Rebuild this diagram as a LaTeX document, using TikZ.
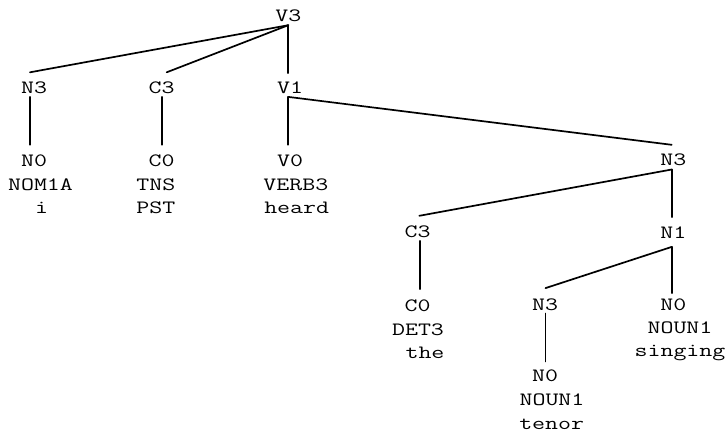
\documentclass[tikz,border=0pt]{standalone}
\usepackage{graphicx}
\newcommand{\cw}[1]{\scalebox{1.34}[1]{#1}}
\tikzset{
  txt/.style={anchor=base, inner sep=0pt, font=\fontsize{18.8}{22}\selectfont\ttfamily},
  cat/.style 2 args={txt, text height=#1pt, text depth=#2pt},
  edge/.style={line width=1.7pt, line cap=round},
}
\begin{document}
\begin{tikzpicture}[x=1pt,y=-1pt]
\useasboundingbox (0,0) rectangle (725,436);
% category nodes
\node[cat={20}{3.3}]   (V3)  at (288.3,21.7) {\cw{V3}};
\node[cat={20.8}{3.4}] (N3a) at (34,93.3)    {\cw{N3}};
\node[cat={20.8}{3.4}] (C3a) at (161.7,93.3) {\cw{C3}};
\node[cat={20}{3.4}]   (V1)  at (290,93.3)   {\cw{V1}};
\node[cat={21.7}{3.3}] (N0a) at (34,166.7)   {\cw{N0}};
\node[cat={21.7}{3.3}] (C0a) at (161.7,166.7){\cw{C0}};
\node[cat={21.7}{3.3}] (V0)  at (290,166.7)  {\cw{V0}};
\node[cat={20}{4.3}]   (N3b) at (673.3,165)  {\cw{N3}};
\node[cat={21.3}{3.4}] (C3b) at (417.7,237.3){\cw{C3}};
\node[cat={21}{8.4}]   (N1)  at (673.3,238.3){\cw{N1}};
\node[cat={22.4}{3.3}] (C0b) at (417.7,311.7){\cw{C0}};
\node[cat={21.7}{3.3}] (N3c) at (545,310)    {\cw{N3}};
\node[cat={16.7}{3.3}] (N0b) at (673.3,310)  {\cw{N0}};
\node[cat={20}{3.3}]   (N0c) at (545,381.7)  {\cw{N0}};
% word lines
\node[txt] (nom)   at (40.5,190)   {\cw{NOM1A}};
\node[txt] (i)     at (41.7,213.3) {\cw{i}};
\node[txt] (tns)   at (155.8,190)  {\cw{TNS}};
\node[txt] (pst)   at (155.8,213.3){\cw{PST}};
\node[txt] (verb)  at (295.8,190)  {\cw{VERB3}};
\node[txt] (heard) at (296.7,213.3){\cw{heard}};
\node[txt] (det)   at (418,335)    {\cw{DET3}};
\node[txt] (the)   at (425,358.3)  {\cw{the}};
\node[txt] (nouna) at (680,333.3)  {\cw{NOUN1}};
\node[txt] (sing)  at (680,356.7)  {\cw{singing}};
\node[txt] (nounb) at (552,405)    {\cw{NOUN1}};
\node[txt] (tenor) at (551.7,429)  {\cw{tenor}};
% connectors
\draw[edge] (V3.south) -- ([xshift=-4pt]N3a.north);
\draw[edge] (V3.south) -- ([xshift=5pt]C3a.north);
\draw[edge] (V3.south) -- ([xshift=-1.7pt]V1.north);
\draw[edge] ([xshift=-4pt]N3a.south) -- ([xshift=-4pt]N0a.north);
\draw[edge] ([xshift=0.6pt]C3a.south) -- ([xshift=0.6pt]C0a.north);
\draw[edge] ([xshift=-1.7pt]V1.south) -- ([xshift=-1.7pt]V0.north);
\draw[edge] ([xshift=-1.7pt]V1.south) -- ([xshift=-1.6pt]N3b.north);
\draw[edge] ([xshift=-1.6pt]N3b.south) -- ([xshift=1.6pt]C3b.north);
\draw[edge] ([xshift=-1.6pt]N3b.south) -- ([xshift=-1.6pt]N1.north);
\draw[edge] ([xshift=2.3pt]C3b.south) -- ([xshift=2.3pt]C0b.north);
\draw[edge] ([xshift=-1.6pt]N1.south) -- ([xshift=0.5pt]N3c.north);
\draw[edge] ([xshift=-1.6pt]N1.south) -- ([xshift=-1.6pt]N0b.north);
\draw[edge] ([xshift=0.6pt]N3c.south) -- ([xshift=0.6pt]N0c.north);
\end{tikzpicture}
\end{document}
